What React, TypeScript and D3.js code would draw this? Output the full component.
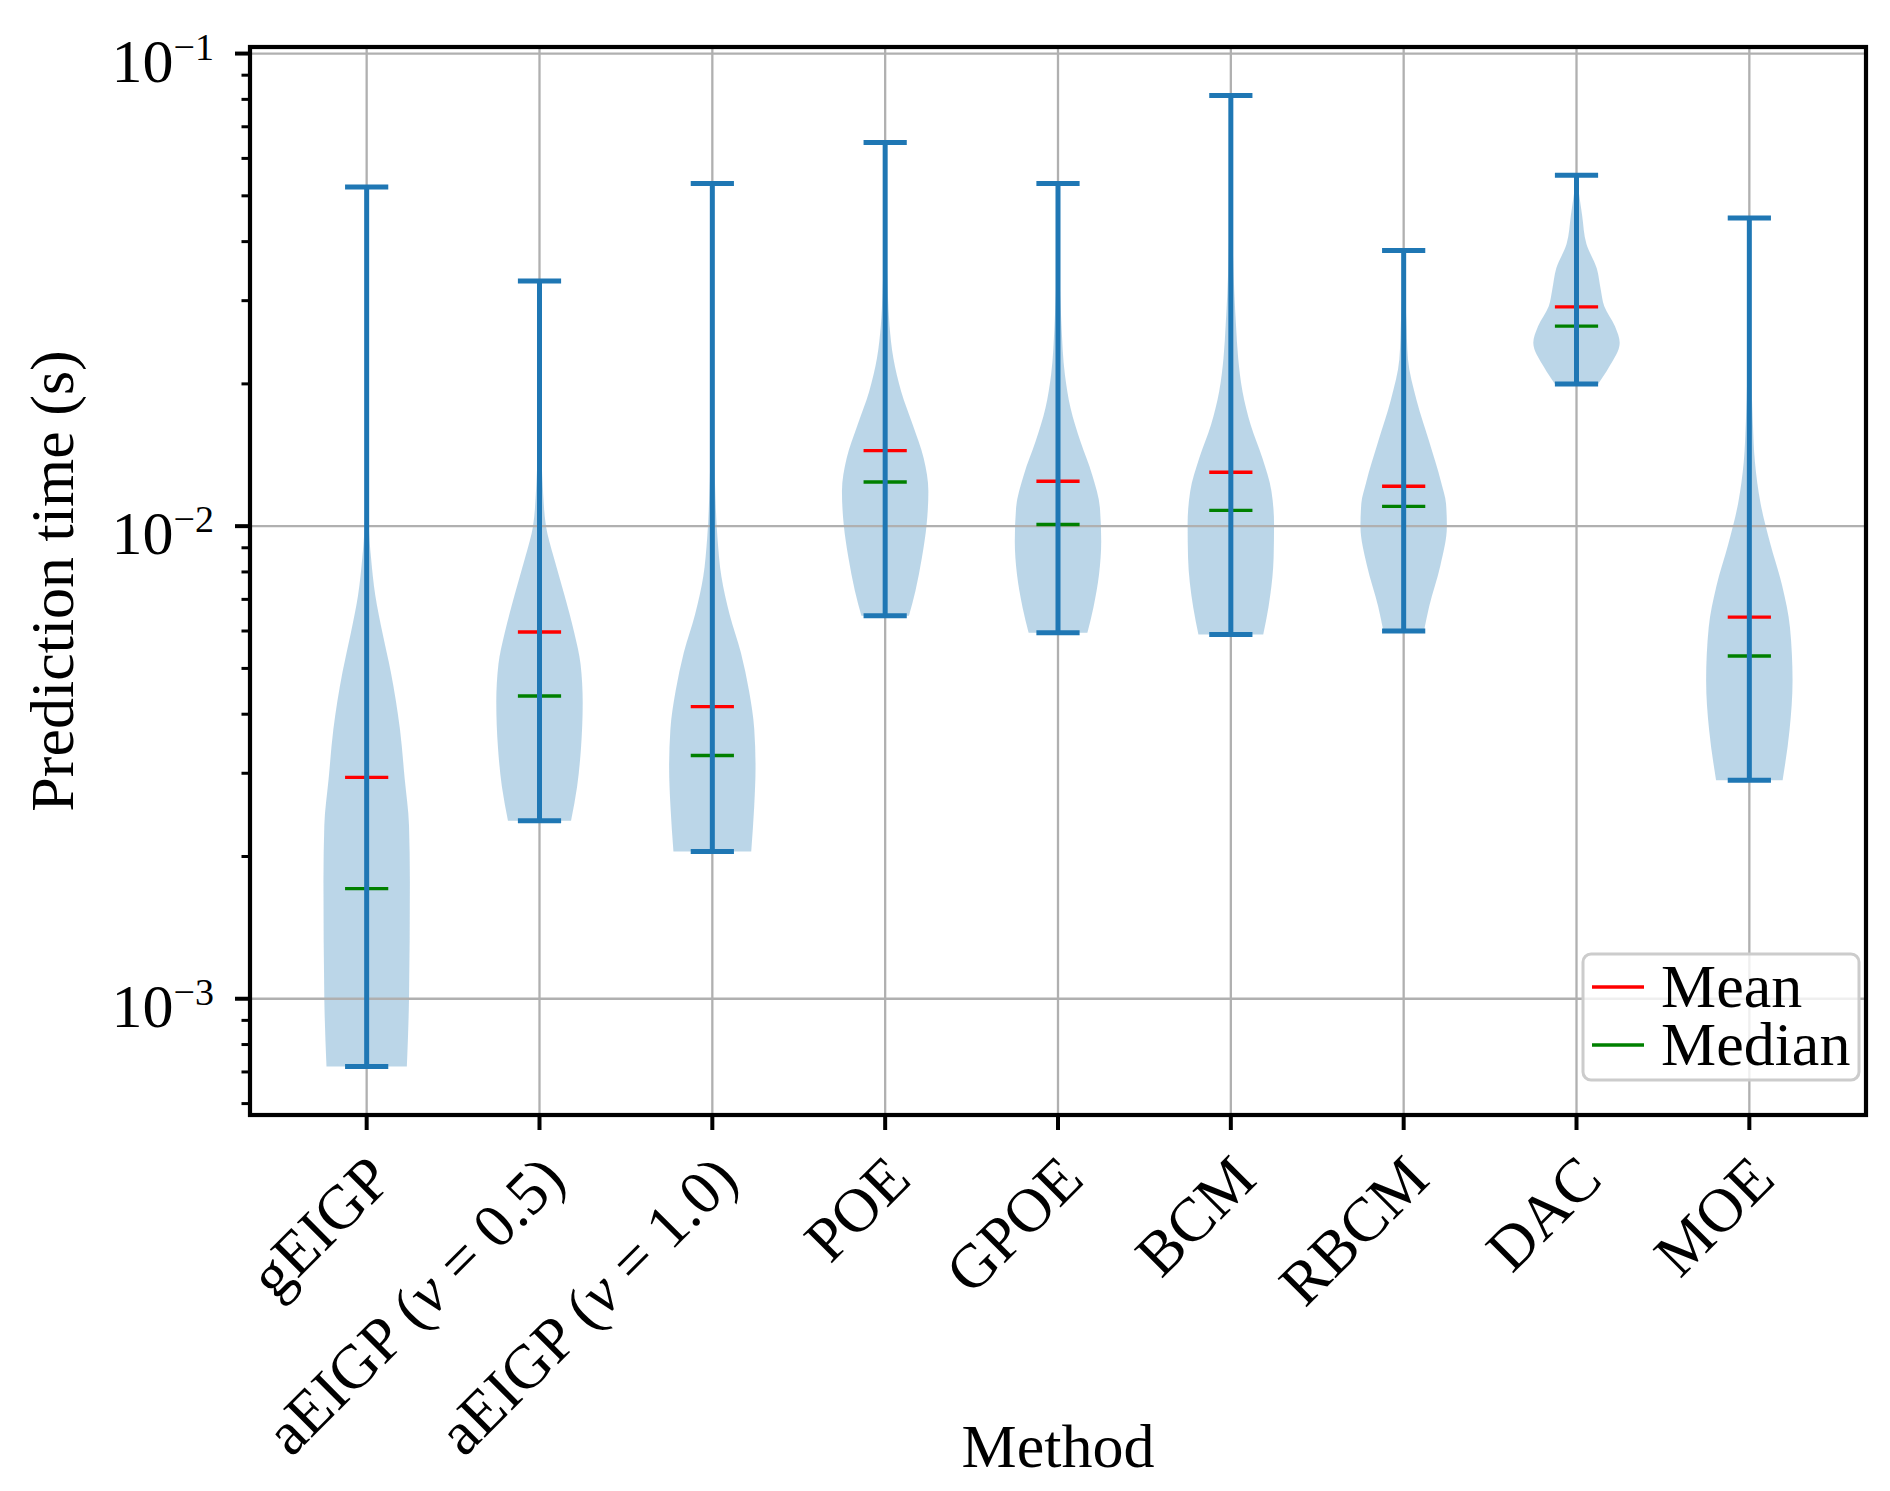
import React, { useEffect, useRef } from 'react';
import * as d3 from 'd3';

// methods along the x axis (ν is set in italics when drawn)
const methods = ['gEIGP', 'aEIGP (ν = 0.5)', 'aEIGP (ν = 1.0)', 'POE', 'GPOE', 'BCM', 'RBCM', 'DAC', 'MOE'];

// prediction time (s) statistics
const maxima = [0.0522, 0.0330, 0.0531, 0.0648, 0.0531, 0.0815, 0.0383, 0.0553, 0.0449];
const minima = [7.19e-4, 2.38e-3, 2.05e-3, 6.46e-3, 5.95e-3, 5.90e-3, 6.0e-3, 0.0200, 2.90e-3];
const means = [2.94e-3, 5.97e-3, 4.15e-3, 0.01445, 0.01245, 0.0130, 0.01215, 0.0291, 6.42e-3];
const medians = [1.71e-3, 4.37e-3, 3.27e-3, 0.0124, 0.01008, 0.0108, 0.01101, 0.0265, 5.31e-3];

// violin outlines: [time, relative half width]
const gEIGPShape: [number, number][] = [
    [7.19e-4, 0.93], [1.0e-3, 0.98], [1.77e-3, 1.0], [2.33e-3, 0.98], [2.92e-3, 0.88], [3.72e-3, 0.77],
    [4.91e-3, 0.56], [5.92e-3, 0.37], [7.13e-3, 0.2], [8.59e-3, 0.1], [0.01, 0.05], [0.0158, 0.02], [0.0522, 0]
];
const aEIGP05Shape: [number, number][] = [
    [2.38e-3, 0.73], [2.81e-3, 0.87], [3.39e-3, 0.96], [4.24e-3, 1.0], [5.11e-3, 0.95], [5.92e-3, 0.81],
    [7.13e-3, 0.58], [8.59e-3, 0.33], [0.01, 0.15], [0.01245, 0.07], [0.0178, 0.02], [0.0330, 0]
];
const aEIGP10Shape: [number, number][] = [
    [2.05e-3, 0.9], [2.56e-3, 0.97], [3.09e-3, 1.0], [3.72e-3, 0.97], [4.48e-3, 0.85], [5.40e-3, 0.66],
    [6.50e-3, 0.40], [7.82e-3, 0.21], [9.42e-3, 0.12], [0.01245, 0.06], [0.02, 0.02], [0.0531, 0]
];
const poeShape: [number, number][] = [
    [6.46e-3, 0.55], [7.29e-3, 0.70], [8.57e-3, 0.85], [0.01009, 0.96], [0.01186, 1.0], [0.01393, 0.89],
    [0.01637, 0.64], [0.01928, 0.37], [0.02265, 0.19], [0.0266, 0.1], [0.0313, 0.06], [0.0447, 0.02], [0.0648, 0]
];
const gpoeShape: [number, number][] = [
    [5.95e-3, 0.68], [6.73e-3, 0.82], [7.91e-3, 0.95], [9.29e-3, 1.0], [0.01094, 0.97], [0.01285, 0.79],
    [0.0151, 0.52], [0.01778, 0.29], [0.0209, 0.16], [0.0266, 0.08], [0.0355, 0.03], [0.0531, 0]
];
const bcmShape: [number, number][] = [
    [5.90e-3, 0.75], [6.73e-3, 0.87], [8.57e-3, 0.99], [0.01009, 1.0], [0.01186, 0.94], [0.01393, 0.73],
    [0.01637, 0.46], [0.01928, 0.27], [0.02265, 0.17], [0.0266, 0.12], [0.0313, 0.08], [0.0447, 0.03], [0.0815, 0]
];
const rbcmShape: [number, number][] = [
    [6.0e-3, 0.47], [6.76e-3, 0.59], [8.26e-3, 0.85], [0.01, 1.0], [0.01117, 0.98], [0.01236, 0.87],
    [0.0151, 0.59], [0.01845, 0.30], [0.02254, 0.1], [0.02754, 0.06], [0.0331, 0.02], [0.0383, 0]
];
const dacShape: [number, number][] = [
    [0.0200, 0.5], [0.02168, 0.75], [0.02443, 1.0], [0.02649, 0.89], [0.02924, 0.64], [0.0317, 0.56],
    [0.03508, 0.47], [0.03954, 0.23], [0.0455, 0.13], [0.0504, 0.06], [0.0553, 0]
];
const moeShape: [number, number][] = [
    [2.90e-3, 0.77], [3.70e-3, 0.93], [4.71e-3, 1.0], [6.11e-3, 0.94], [7.48e-3, 0.76], [9.14e-3, 0.49],
    [0.01117, 0.26], [0.01365, 0.13], [0.01667, 0.08], [0.0251, 0.03], [0.0449, 0]
];
const shapes = [gEIGPShape, aEIGP05Shape, aEIGP10Shape, poeShape, gpoeShape, bcmShape, rbcmShape, dacShape, moeShape];

const majorTicks = [1e-3, 1e-2, 1e-1];
const majorExponents = ['−3', '−2', '−1'];
const legendItems = [{ label: 'Mean', color: 'red' }, { label: 'Median', color: 'green' }];

export default function App() {
    const ref = useRef<SVGSVGElement>(null);

    useEffect(() => {
        const svg = d3.select(ref.current);
        svg.selectAll('*').remove();

        const width = 1890, height = 1491;
        const margin = { top: 47, right: 24, bottom: 376, left: 250 };
        const left = margin.left, right = width - margin.right;
        const top = margin.top, bottom = height - margin.bottom;
        const font = '"Liberation Serif", "DejaVu Serif", serif';
        const blue = '#1f77b4';

        // x: positions 1..n with matplotlib-like margins
        const n = methods.length;
        const x = d3.scaleLinear().domain([0.75 - 0.425, n + 0.25 + 0.425]).range([left, right]);

        // y: log scale with 5% margin in log space
        const lo = Math.log10(d3.min(minima) as number);
        const hi = Math.log10(d3.max(maxima) as number);
        const pad = (hi - lo) * 0.05;
        const y = d3.scaleLog().domain([Math.pow(10, lo - pad), Math.pow(10, hi + pad)]).range([bottom, top]);

        const halfW = x(1.25) - x(1);
        const capW = x(1.125) - x(1);

        // violins
        shapes.forEach((shape, i) => {
            const cx = x(i + 1);
            const area = d3.area<[number, number]>()
                .x0(d => cx - halfW * d[1])
                .x1(d => cx + halfW * d[1])
                .y(d => y(d[0]))
                .curve(d3.curveMonotoneY);
            svg.append('path')
                .attr('d', area(shape) as string)
                .attr('fill', blue)
                .attr('fill-opacity', 0.3);
        });

        // grid
        const grid = svg.append('g').attr('stroke', '#b0b0b0').attr('stroke-width', 2.3);
        methods.forEach((_, i) => {
            grid.append('line').attr('x1', x(i + 1)).attr('x2', x(i + 1)).attr('y1', top).attr('y2', bottom);
        });
        majorTicks.forEach(t => {
            grid.append('line').attr('x1', left).attr('x2', right).attr('y1', y(t)).attr('y2', y(t));
        });

        // mean / median
        methods.forEach((_, i) => {
            const cx = x(i + 1);
            svg.append('line').attr('x1', cx - capW).attr('x2', cx + capW)
                .attr('y1', y(means[i])).attr('y2', y(means[i]))
                .attr('stroke', 'red').attr('stroke-width', 3.4);
            svg.append('line').attr('x1', cx - capW).attr('x2', cx + capW)
                .attr('y1', y(medians[i])).attr('y2', y(medians[i]))
                .attr('stroke', 'green').attr('stroke-width', 3.4);
        });

        // bars and caps
        methods.forEach((_, i) => {
            const cx = x(i + 1);
            const g = svg.append('g').attr('stroke', blue).attr('stroke-width', 5);
            g.append('line').attr('x1', cx).attr('x2', cx).attr('y1', y(minima[i])).attr('y2', y(maxima[i]));
            g.append('line').attr('x1', cx - capW).attr('x2', cx + capW).attr('y1', y(minima[i])).attr('y2', y(minima[i]));
            g.append('line').attr('x1', cx - capW).attr('x2', cx + capW).attr('y1', y(maxima[i])).attr('y2', y(maxima[i]));
        });

        // y ticks
        const [d0, d1] = y.domain();
        const minor: number[] = [];
        for (let k = -4; k <= -1; k++) {
            for (let m = 2; m <= 9; m++) {
                const v = m * Math.pow(10, k);
                if (v >= d0 && v <= d1) minor.push(v);
            }
        }
        minor.forEach(v => {
            svg.append('line').attr('x1', left - 8.5).attr('x2', left).attr('y1', y(v)).attr('y2', y(v))
                .attr('stroke', 'black').attr('stroke-width', 3);
        });
        majorTicks.forEach((t, i) => {
            svg.append('line').attr('x1', left - 15).attr('x2', left).attr('y1', y(t)).attr('y2', y(t))
                .attr('stroke', 'black').attr('stroke-width', 4);
            const txt = svg.append('text')
                .attr('x', left - 36).attr('y', y(t) + 28)
                .attr('text-anchor', 'end')
                .attr('font-family', font).attr('font-size', 62);
            txt.append('tspan').text('10');
            txt.append('tspan').attr('dy', -22).attr('font-size', 38).text(majorExponents[i]);
        });

        // x ticks
        methods.forEach((m, i) => {
            const cx = x(i + 1);
            svg.append('line').attr('x1', cx).attr('x2', cx).attr('y1', bottom).attr('y2', bottom + 15)
                .attr('stroke', 'black').attr('stroke-width', 4);
            const txt = svg.append('text')
                .attr('transform', `translate(${cx + 28},${bottom + 67}) rotate(-45)`)
                .attr('text-anchor', 'end')
                .attr('font-family', font).attr('font-size', 62);
            const parts = m.split('ν');
            parts.forEach((p, j) => {
                if (j > 0) txt.append('tspan').attr('font-style', 'italic').text('ν');
                txt.append('tspan').text(p);
            });
        });

        // spines
        svg.append('rect')
            .attr('x', left).attr('y', top).attr('width', right - left).attr('height', bottom - top)
            .attr('fill', 'none').attr('stroke', 'black').attr('stroke-width', 4.2);

        // axis labels
        svg.append('text')
            .attr('transform', `translate(73,${(top + bottom) / 2}) rotate(-90)`)
            .attr('text-anchor', 'middle')
            .attr('font-family', font).attr('font-size', 62)
            .text('Prediction time (s)');
        svg.append('text')
            .attr('x', (left + right) / 2).attr('y', 1467)
            .attr('text-anchor', 'middle')
            .attr('font-family', font).attr('font-size', 62)
            .text('Method');

        // legend
        const lg = svg.append('g').attr('transform', `translate(${right - 283},${bottom - 161})`);
        lg.append('rect')
            .attr('width', 276).attr('height', 126).attr('rx', 8)
            .attr('fill', 'white').attr('fill-opacity', 0.8)
            .attr('stroke', '#cccccc').attr('stroke-width', 3);
        legendItems.forEach((item, i) => {
            const ly = 33 + i * 58;
            lg.append('line').attr('x1', 9).attr('x2', 61).attr('y1', ly).attr('y2', ly)
                .attr('stroke', item.color).attr('stroke-width', 3.4);
            lg.append('text').attr('x', 78).attr('y', ly + 20)
                .attr('font-family', font).attr('font-size', 62)
                .text(item.label);
        });
    }, []);

    return (
        <svg ref={ref} width={1890} height={1491}
            style={{ position: 'absolute', left: 0, top: 0, background: 'white' }} />
    );
}
